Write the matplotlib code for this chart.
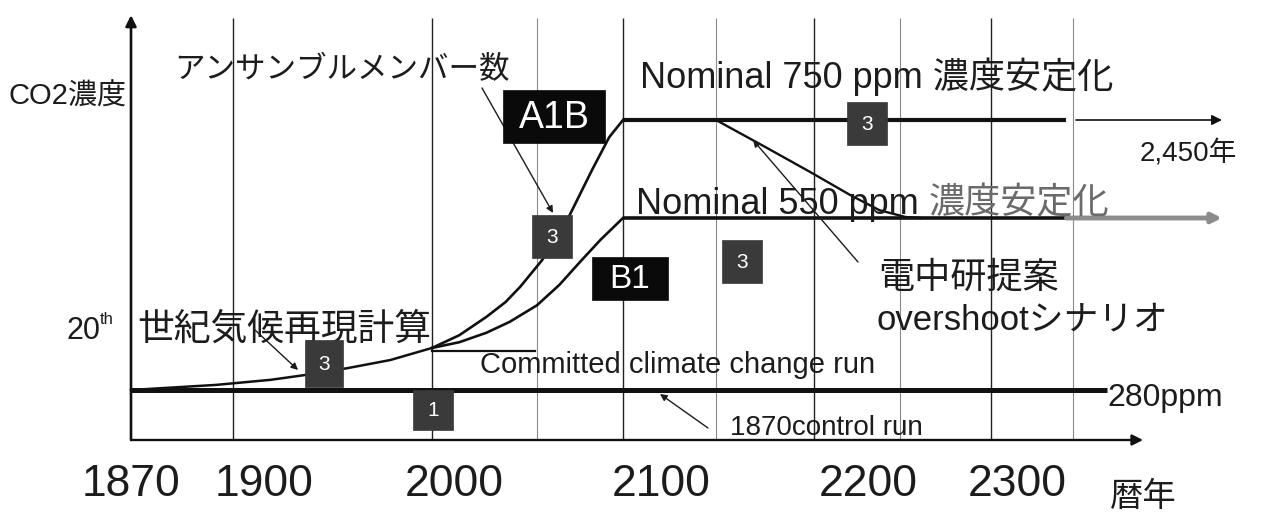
import numpy as np
import matplotlib
matplotlib.use('Agg')
import matplotlib.pyplot as plt
from matplotlib.patches import Rectangle

plt.rcParams['font.family'] = ['Liberation Sans', 'Noto Sans CJK JP']

# ---------------- data (years, CO2 concentration in ppm, schematic) ----------------
hist_years = [1870, 1895, 1919, 1935, 1957, 1979, 2000]
hist_ppm = [280, 288, 296, 303, 314, 327, 346]
committed_years = [2000, 2049]
committed_ppm = [342, 342]
a1b_years = [2000, 2013, 2026, 2035, 2042, 2053, 2069, 2082, 2092, 2100]
a1b_ppm = [346, 366, 395, 418, 442, 484, 556, 648, 715, 750]
b1_years = [2000, 2013, 2026, 2037, 2050, 2063, 2075, 2087, 2100]
b1_ppm = [346, 355, 370, 387, 413, 445, 481, 516, 550]
stab750_years = [2100, 2346]
stab750_ppm = [750, 750]
ext750_years = [2352, 2450]
stab550_years = [2100, 2346]
stab550_ppm = [550, 550]
ext550_years = [2346, 2450]
overshoot_years = [2150, 2176, 2198, 2221, 2238, 2253, 2262]
overshoot_ppm = [750, 693, 644, 597, 566, 552, 550]
control_years = [1870, 2373]
control_ppm = [280, 280]
grid_major = [1900, 2000, 2100, 2200, 2300]
grid_minor = [2050, 2150, 2250, 2350]
year_labels = ['1870', '1900', '2000', '2100', '2200', '2300']
members = ['3', '3', '3', '3', '1']

# ---------------- schematic (non-linear) axis scales ----------------
XA_YR = [1832, 1870, 1900, 2000, 2050, 2100, 2150, 2200, 2250, 2300, 2350, 2450, 2478]
XA_PX = [0, 131, 233, 432, 537, 623, 716, 814, 900, 991, 1073, 1222, 1263]
YA_PPM = [-409, 0, 280, 550, 750, 995]
YA_PX = [0, 73, 123, 295, 393, 513]

def xf(v): return np.interp(v, XA_YR, XA_PX)
def xi(v): return np.interp(v, XA_PX, XA_YR)
def yf(v): return np.interp(v, YA_PPM, YA_PX)
def yi(v): return np.interp(v, YA_PX, YA_PPM)

W, H = 1263, 513
fig = plt.figure(figsize=(W / 100, H / 100), dpi=100)
fig.patch.set_facecolor('white')
ax = fig.add_axes([0, 0, 1, 1])
ax.set_xscale('function', functions=(xf, xi))
ax.set_yscale('function', functions=(yf, yi))
ax.set_xlim(1832, 2478)
ax.set_ylim(-409, 995)
ax.axis('off')

K = '#111111'
# grid lines
ax.vlines(grid_major, 0, 958, color='#222222', lw=1.0, zorder=1)
ax.vlines(grid_minor, 0, 958, color='#8a8a8a', lw=0.8, zorder=1)

# axes arrows
ax.annotate('', xy=(1870, 964), xytext=(1870, 0),
            arrowprops=dict(arrowstyle='-|>', lw=1.9, color=K, mutation_scale=16,
                            shrinkA=0, shrinkB=0), zorder=3)
ax.annotate('', xy=(2397, 0), xytext=(1870, 0),
            arrowprops=dict(arrowstyle='-|>', lw=1.7, color=K, mutation_scale=16,
                            shrinkA=0, shrinkB=0), zorder=3)

# series
ax.plot(control_years, control_ppm, color=K, lw=3.6, solid_capstyle='butt', zorder=3)
ax.plot(hist_years, hist_ppm, color=K, lw=1.8, zorder=3)
ax.plot(committed_years, committed_ppm, color=K, lw=1.6, zorder=3)
ax.plot(a1b_years, a1b_ppm, color=K, lw=1.9, zorder=3)
ax.plot(b1_years, b1_ppm, color=K, lw=1.9, zorder=3)
ax.plot(stab750_years, stab750_ppm, color=K, lw=3.0, solid_capstyle='butt', zorder=3)
ax.plot(stab550_years, stab550_ppm, color=K, lw=2.6, solid_capstyle='butt', zorder=3)
ax.plot(overshoot_years, overshoot_ppm, color=K, lw=1.7, zorder=3)
ax.annotate('', xy=(ext750_years[1], 750), xytext=(ext750_years[0], 750),
            arrowprops=dict(arrowstyle='-|>', lw=1.2, color=K, mutation_scale=15,
                            shrinkA=0, shrinkB=0), zorder=3)
ax.annotate('', xy=(ext550_years[1], 550), xytext=(ext550_years[0], 550),
            arrowprops=dict(arrowstyle='-|>', lw=3.5, color='#8c8c8c', mutation_scale=14,
                            shrinkA=0, shrinkB=0), zorder=3)

# ---------------- annotation layer in pixel coordinates ----------------
ov = fig.add_axes([0, 0, 1, 1], zorder=5)
ov.set_xlim(0, W)
ov.set_ylim(H, 0)
ov.axis('off')
ov.patch.set_alpha(0)

TC = '#1c1c1c'

def T(x, y, s, fs, ha='left', va='center', color=TC, **kw):
    return ov.text(x, y, s, fontsize=fs, ha=ha, va=va, color=color, **kw)

def box(x0, y0, x1, y1, label, fs, fc='#333333', tc='white'):
    ov.add_patch(Rectangle((x0, y0), x1 - x0, y1 - y0, facecolor=fc, edgecolor=fc, lw=0.5, zorder=6))
    ov.text((x0 + x1) / 2, (y0 + y1) / 2 + 1, label, fontsize=fs, color=tc, ha='center',
            va='center', zorder=7)

def pointer(x0, y0, x1, y1):
    ov.annotate('', xy=(x1, y1), xytext=(x0, y0),
                arrowprops=dict(arrowstyle='-|>', lw=1.0, color=TC, mutation_scale=10,
                                shrinkA=0, shrinkB=0))

# texts
T(8, 97, 'CO2濃度', 21)
T(174, 70, 'アンサンブルメンバー数', 22)
T(640, 77, 'Nominal 750 ppm 濃度安定化', 26)
T(1140, 153, '2,450年', 20)
t550 = T(636, 204, 'Nominal 550 ppm ', 26)
ov.annotate('濃度安定化', xy=(1, 0.5), xycoords=t550, fontsize=26, color='#6a6a6a',
            ha='left', va='center')
T(878, 278, '電中研提案', 26)
T(876, 320, 'overshootシナリオ', 25)
T(66, 331, '20', 22)
T(100, 320, 'th', 12)
T(137, 330, '世紀気候再現計算', 26.5)
T(480, 365, 'Committed climate change run', 21)
T(730, 428, '1870control run', 20)
T(1107, 398, '280ppm', 23)
T(1110, 497, '暦年', 24)

# year labels
year_px = [131, 264, 454, 661, 868, 1017]
for lab, xp in zip(year_labels, year_px):
    T(xp, 484, lab, 32, ha='center')

# pointers
pointer(482, 88, 553, 213)
pointer(255, 330, 298, 370)
pointer(858, 262, 753, 140)
pointer(708, 428, 660, 394)

# scenario boxes
box(503, 90, 605, 143, 'A1B', 27, fc='#0a0a0a')
box(592, 257, 668, 300, 'B1', 24, fc='#0a0a0a')

# ensemble member boxes
mem_boxes = [(305, 340, 343, 387), (532, 215, 572, 258), (847, 102, 887, 145),
             (722, 240, 762, 283), (413, 390, 453, 430)]
for (x0, y0, x1, y1), m in zip(mem_boxes, members):
    box(x0, y0, x1, y1, m, 15, fc='#3a3a3a')

fig.savefig('out.png', dpi=100, facecolor='white')
